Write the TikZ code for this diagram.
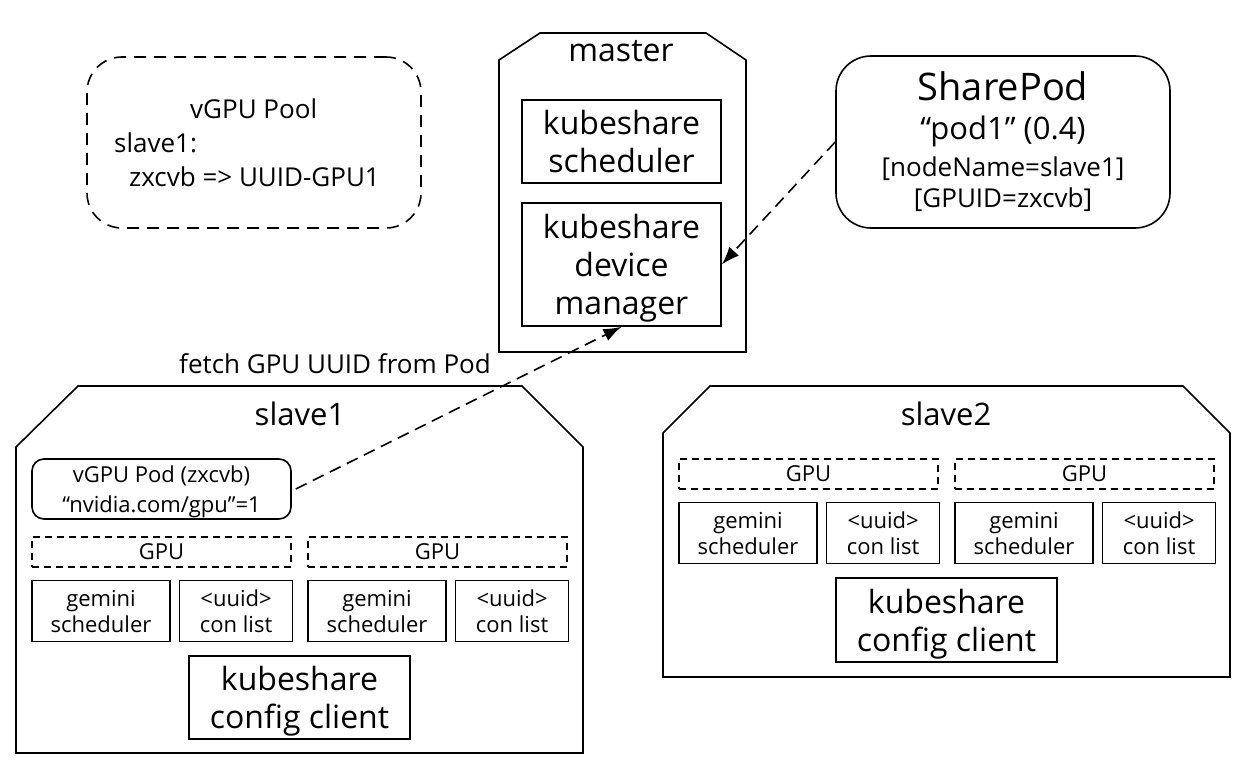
\documentclass[tikz,border=0pt]{standalone}
\usepackage{fontspec}
\setmainfont{Open Sans}
\usetikzlibrary{arrows.meta,positioning}
\newcommand\fsz[2]{\fontsize{#1pt}{#2pt}\selectfont}
\tikzset{%
  comp/.style={rectangle,draw=black,line width=1.6pt,inner sep=0pt,align=center},
  pod/.style={comp,rounded corners=12pt},
  gpucard/.style={comp,dash pattern=on 7pt off 5pt,minimum width=259pt,minimum height=30pt,font=\fsz{22}{26}},
  unit/.style={comp,minimum height=61pt,font=\fsz{22}{26}},
  bignote/.style={comp,rounded corners=35pt,minimum width=334pt,minimum height=172pt},
  host/.style={draw=black,line width=1.6pt,line join=miter},
  fetch/.style={line width=1.6pt,dash pattern=on 12pt off 7pt,-{Latex[length=18pt,width=13pt]}}%
}

\begin{document}
\begin{tikzpicture}[x=1pt,y=-1pt]
    \useasboundingbox (0,0) rectangle (1244,770);

    % hosts
    \draw[host] (499,60) -- (540,33) -- (706,33) -- (746,60) -- (746,352) -- (499,352) -- cycle;
    \draw[host] (16,447) -- (78,386) -- (522,386) -- (583,447) -- (583,753) -- (16,753) -- cycle;
    \draw[host] (663,433) -- (710,386) -- (1183,386) -- (1230,433) -- (1230,677) -- (663,677) -- cycle;

    \node (master) at (621,51) {\fsz{32}{38}master};
    \node (slave1) at (300,414) {\fsz{31}{36}slave1};
    \node (slave2) at (946,414) {\fsz{31}{36}slave2};

    % master
    \node (scheduler) [comp,minimum width=199pt,minimum height=83pt,font=\fsz{32}{38}] at (621.5,141.5) {kubeshare\\scheduler};
    \node (devmgr) [comp,minimum width=199pt,minimum height=123pt,font=\fsz{32}{38}] at (621.5,264.5) {\rule{0pt}{32pt}kubeshare\\device\\manager};

    % notes
    \node (pool) [bignote,dash pattern=on 12pt off 8pt,minimum height=171pt,align=left,font=\fsz{26}{34}] at (254,142.5)
        {\hspace*{76pt}vGPU Pool\\slave1:\\\hspace*{15pt}zxcvb => UUID-GPU1\hspace*{14pt}};
    \node (sharepod) [bignote,font=\fsz{38}{31}] at (1003,142)
        {SharePod\\[8pt]\fsz{31}{31}“pod1” (0.4)\\[6pt]\fsz{26}{31}[nodeName=slave1]\\\fsz{26}{31}\mbox{[GPUID=zxcvb]}};

    % slave1
    \node (vgpu_pod) [pod,minimum width=259pt,minimum height=60pt,font=\fsz{22}{30}] at (161.5,489) {\rule{0pt}{22pt}vGPU Pod (zxcvb)\\“nvidia.com/gpu”=1};
    \node (gpu_a1) [gpucard] at (161.5,552) {GPU};
    \node (gpu_a2) [gpucard] at (437.5,552) {GPU};
    \node (gem_a1) [unit,minimum width=138pt,below right=12pt and 0pt of gpu_a1.south west] {gemini\\scheduler};
    \node (uuid_a1) [unit,minimum width=113pt,right=8pt of gem_a1] {<uuid>\\con list};
    \node (gem_a2) [unit,minimum width=138pt,below right=12pt and 0pt of gpu_a2.south west] {gemini\\scheduler};
    \node (uuid_a2) [unit,minimum width=113pt,right=8pt of gem_a2] {<uuid>\\con list};
    \node (client_a) [comp,minimum width=221pt,minimum height=83pt,font=\fsz{32}{38}] at (299.5,697.5) {\rule{0pt}{32pt}kubeshare\\config client};

    % slave2
    \node (gpu_b1) [gpucard] at (808.5,474) {GPU};
    \node (gpu_b2) [gpucard] at (1084.5,474) {GPU};
    \node (gem_b1) [unit,minimum width=138pt,below right=12pt and 0pt of gpu_b1.south west] {gemini\\scheduler};
    \node (uuid_b1) [unit,minimum width=113pt,right=8pt of gem_b1] {<uuid>\\con list};
    \node (gem_b2) [unit,minimum width=138pt,below right=12pt and 0pt of gpu_b2.south west] {gemini\\scheduler};
    \node (uuid_b2) [unit,minimum width=113pt,right=8pt of gem_b2] {<uuid>\\con list};
    \node (client_b) [comp,minimum width=221pt,minimum height=84pt,font=\fsz{32}{38}] at (946.5,620) {\rule{0pt}{32pt}kubeshare\\config client};

    % connectors
    \draw[fetch] (sharepod.west) -- (devmgr.east);
    \draw[fetch] ([xshift=4pt]vgpu_pod.east) -- (devmgr.south);
    \node (fetch_label) at (335,364) {\fsz{26}{30}fetch GPU UUID from Pod};

  \end{tikzpicture}
\end{document}
